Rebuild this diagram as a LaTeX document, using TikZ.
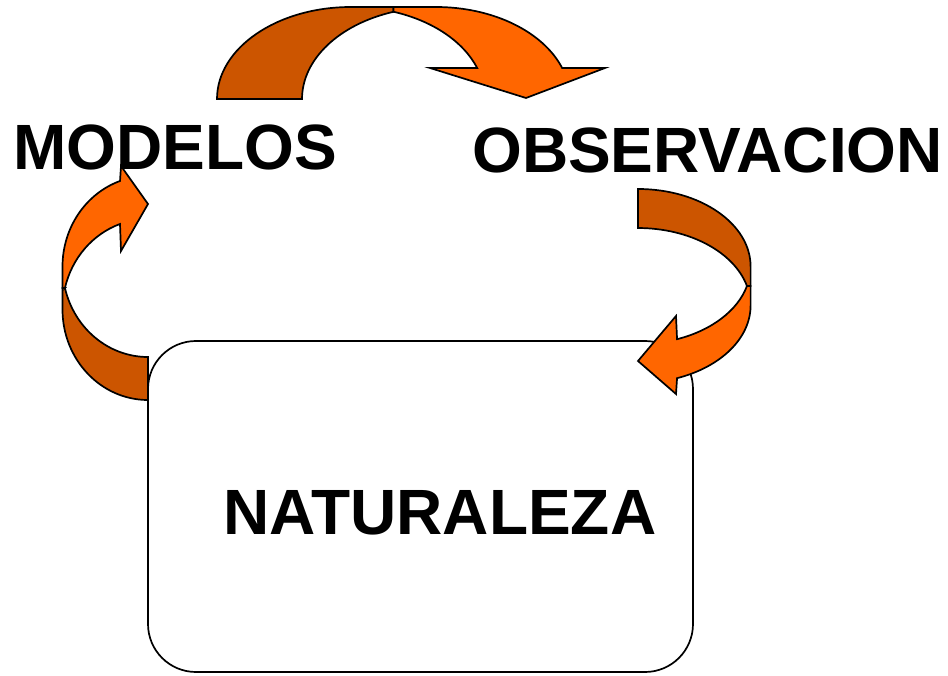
\documentclass[tikz,border=0pt]{standalone}
\usepackage{fontspec}
\setmainfont{Liberation Sans}
\definecolor{backorange}{RGB}{204,85,0}
\definecolor{frontorange}{RGB}{255,102,0}
\begin{document}
\begin{tikzpicture}[x=1pt,y=-1pt,
  word/.style={font=\fontsize{64}{64}\selectfont\bfseries, inner sep=0pt, anchor=base},
  band/.style={draw=black, line width=1.7pt, line join=miter},
  back/.style={band, fill=backorange},
  front/.style={band, fill=frontorange}]
\useasboundingbox (0,0) rectangle (948,676);
\node[draw, fill=white, line width=1.7pt, rounded corners=48pt, minimum width=545pt, minimum height=331pt] (box) at (420.5,506.5) {};
\node[word] (naturaleza) at (440,534) {NATURALEZA};
\node[word] (modelos) at (175,170) {MODELOS};
\node[word] (observacion) at (707.5,173) {OBSERVACION};

\coordinate (topcross) at (393.5,11.8);
\coordinate (leftcross) at (64.95,288);
\coordinate (rightcross) at (746.96,286);

\path[back] (217,99) arc[start angle=180, end angle=270, x radius=134, y radius=92]
  -- (393.5,7) -- (topcross)
  arc[start angle=251.5, end angle=180, x radius=134, y radius=92] -- cycle;
\path[front] (topcross) -- (393.5,7) -- (436,7)
  arc[start angle=270, end angle=340.3, x radius=134, y radius=92]
  -- (605,68) -- (526,98) -- (430,68) -- (477.2,68)
  arc[start angle=340.3, end angle=288.5, x radius=134, y radius=92] -- cycle;

\path[back] (638,189) arc[start angle=270, end angle=360, x radius=112.6, y radius=77.5]
  -- (750.6,286) -- (rightcross)
  arc[start angle=345.4, end angle=270, x radius=112.6, y radius=77.5] -- cycle;
\path[front] (rightcross) -- (750.6,286) -- (750.6,305.5)
  arc[start angle=0, end angle=69.7, x radius=112.6, y radius=77.5]
  -- (676,394) -- (638,361) -- (676,316) -- (677.06,339.2)
  arc[start angle=69.7, end angle=14.6, x radius=112.6, y radius=77.5] -- cycle;

\path[back] (148,400) arc[start angle=90, end angle=180, x radius=85.5, y radius=90.5]
  -- (62.5,288) -- (leftcross)
  arc[start angle=166.26, end angle=90, x radius=85.5, y radius=90.5] -- cycle;
\path[front] (leftcross) -- (62.5,288) -- (62.5,266.5)
  arc[start angle=180, end angle=250.9, x radius=85.5, y radius=90.5]
  -- (121,166) -- (148,204) -- (121,251) -- (120,224)
  arc[start angle=250.9, end angle=193.74, x radius=85.5, y radius=90.5] -- cycle;
\end{tikzpicture}
\end{document}
